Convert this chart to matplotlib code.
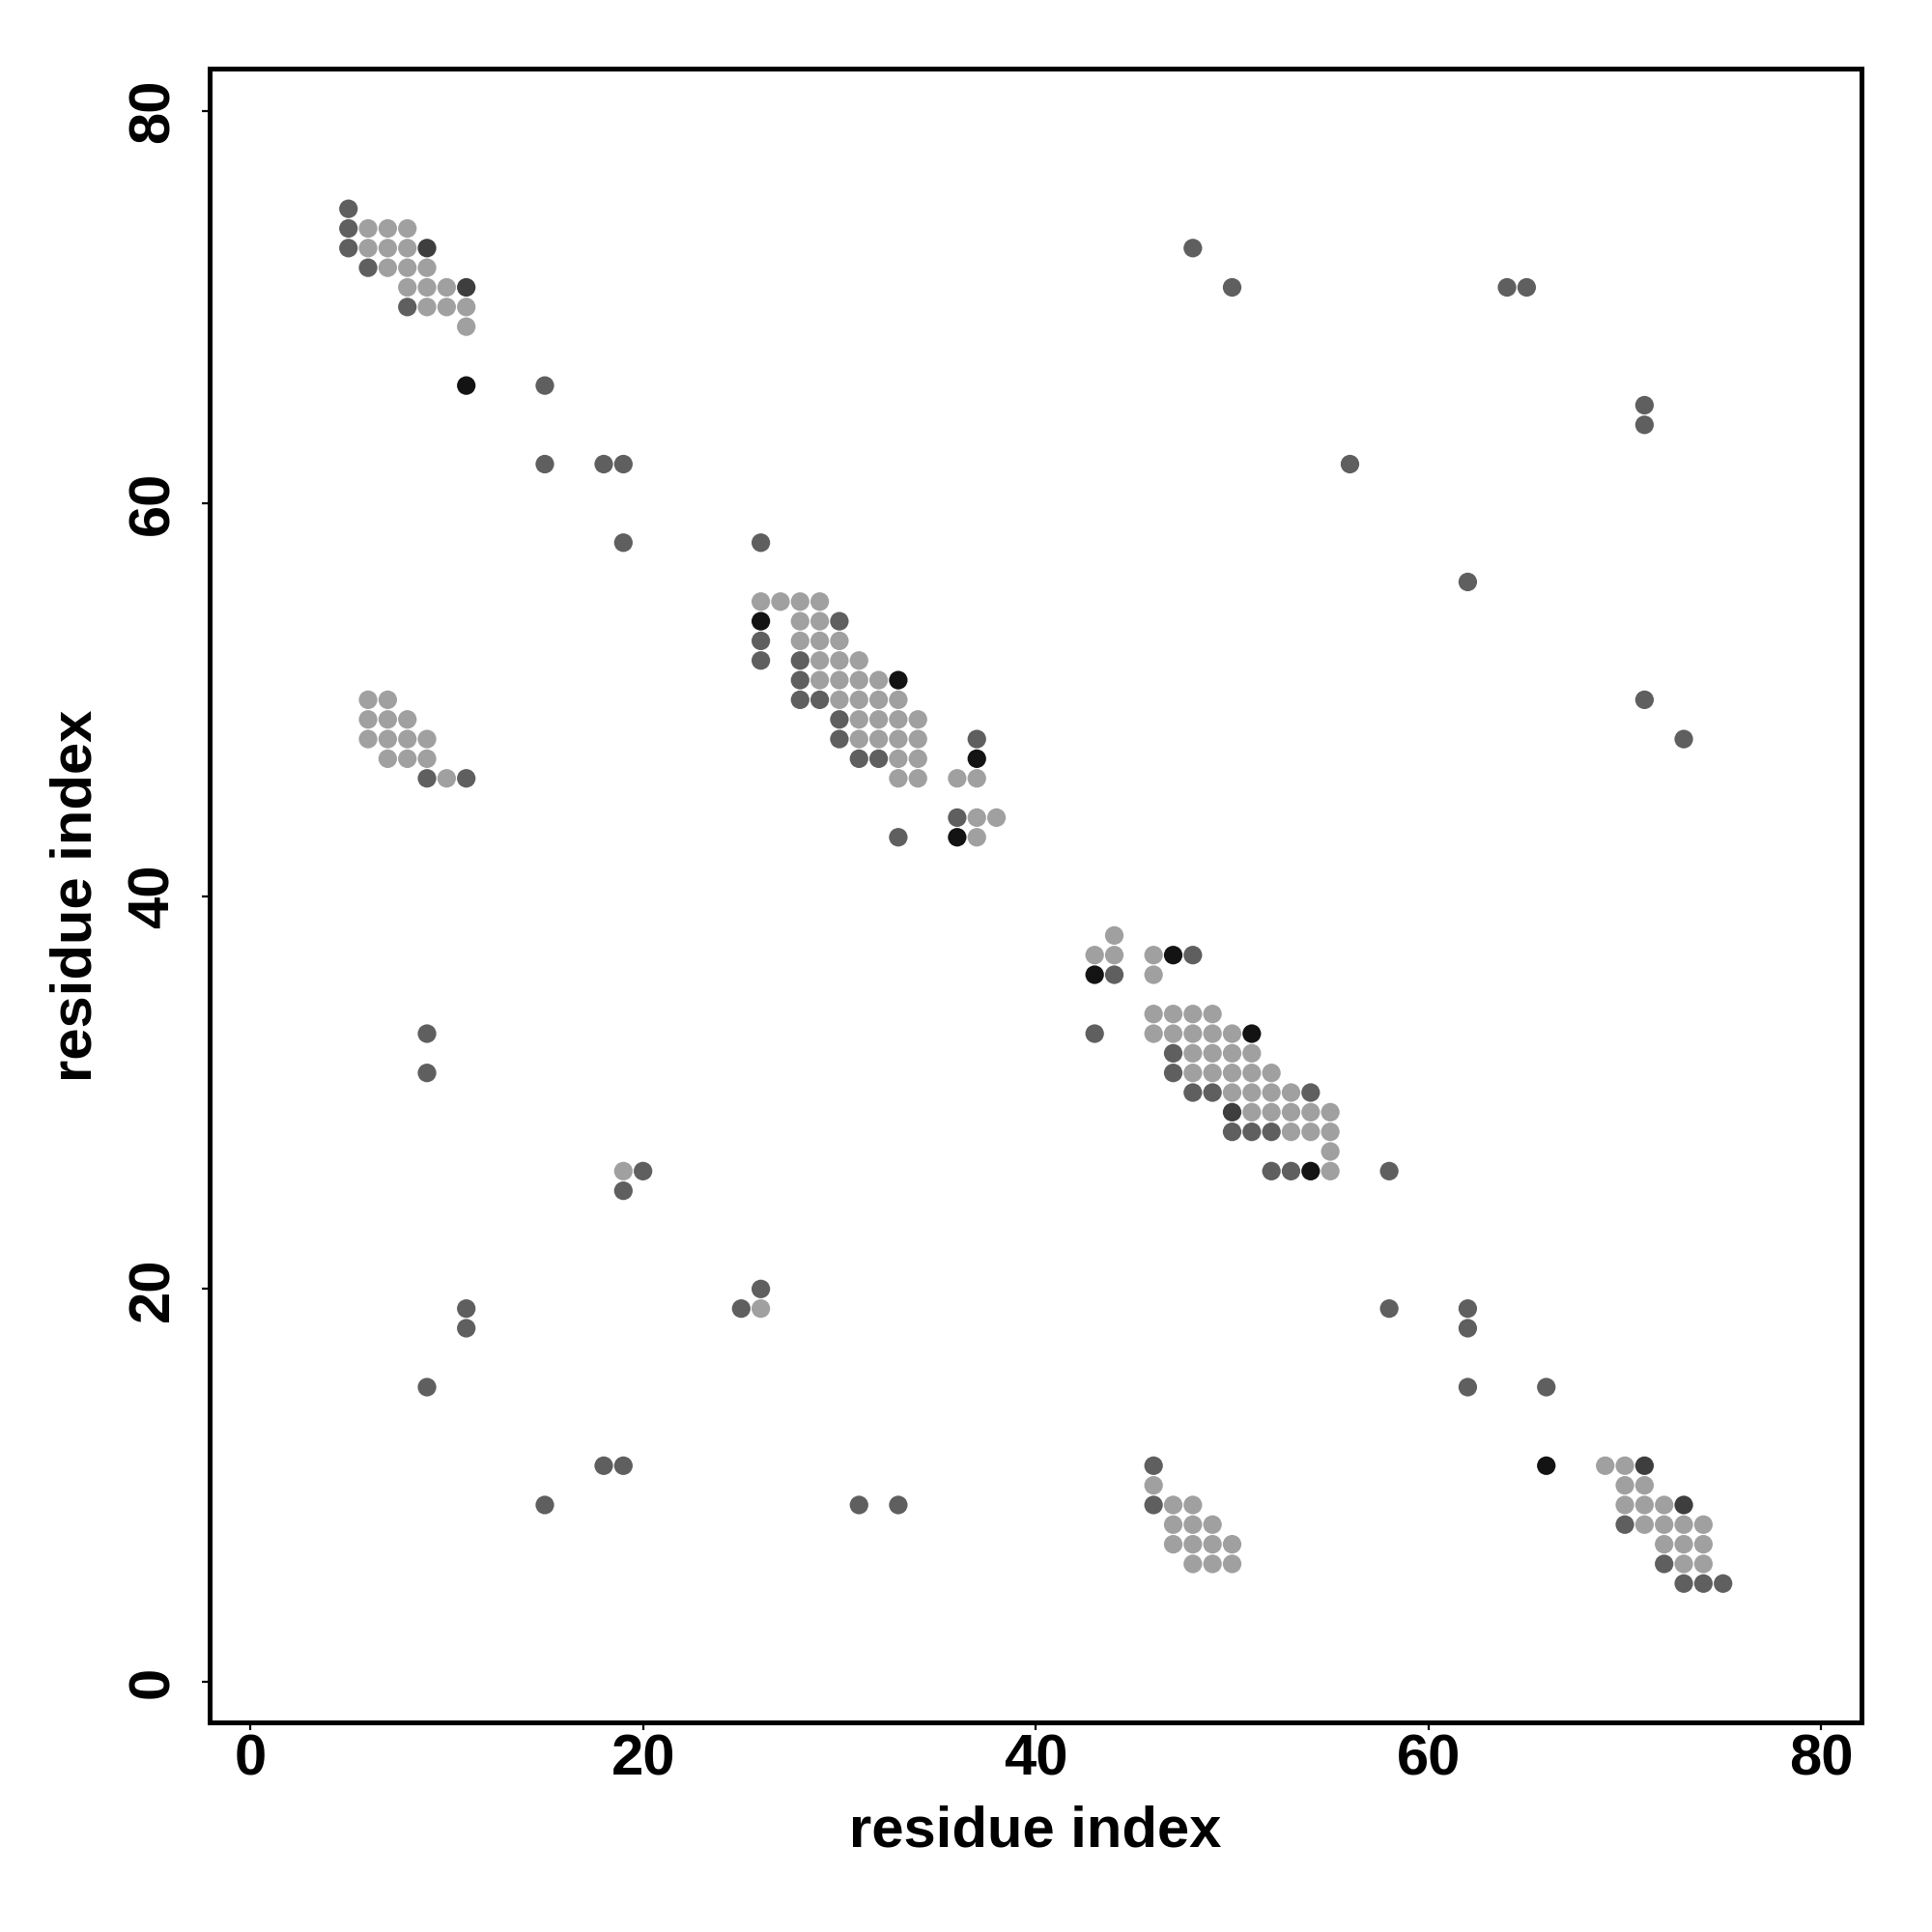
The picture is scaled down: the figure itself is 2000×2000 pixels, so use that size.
import matplotlib
matplotlib.use('Agg')
import matplotlib.pyplot as plt

# contact points: residue i (x), residue j (y), shade level (0 light .. 3 black)
res_x = [5, 5, 6, 7, 8, 5, 6, 7, 8, 9, 6, 7, 8, 9, 8, 9, 10, 11, 8, 9, 10, 11, 11, 11,
         15, 15, 18, 19, 19, 26,
         6, 7, 6, 7, 8, 6, 7, 8, 9, 7, 8, 9, 9, 10, 11,
         26, 27, 28, 29, 26, 28, 29, 30, 26, 28, 29, 30, 26, 28, 29, 30, 31,
         28, 29, 30, 31, 32, 33, 28, 29, 30, 31, 32, 33, 30, 31, 32, 33, 34,
         30, 31, 32, 33, 34, 37, 31, 32, 33, 34, 37, 33, 34, 36, 37, 36, 37, 38, 33, 36, 37,
         44, 43, 44, 46, 47, 48, 43, 44, 46, 46, 47, 48, 49, 43, 46, 47, 48, 49, 50, 51,
         47, 48, 49, 50, 51, 47, 48, 49, 50, 51, 52, 48, 49, 50, 51, 52, 53, 54,
         50, 51, 52, 53, 54, 55, 50, 51, 52, 53, 54, 55, 55, 52, 53, 54, 55, 58,
         69, 70, 71, 70, 71, 70, 71, 72, 73, 70, 71, 72, 73, 74, 72, 73, 74, 72, 73, 74,
         73, 74, 75, 66, 66,
         46, 46, 46, 47, 48, 47, 48, 49, 47, 48, 49, 50, 48, 49, 50,
         48, 50, 64, 65, 71, 71, 56, 62, 71, 73,
         9, 9, 19, 20, 19, 11, 11, 9, 25, 26, 26, 18, 19, 15, 31, 33, 58, 62, 62, 62]
res_y = [75, 74, 74, 74, 74, 73, 73, 73, 73, 73, 72, 72, 72, 72, 71, 71, 71, 71, 70, 70, 70, 70, 69, 66,
         66, 62, 62, 62, 58, 58,
         50, 50, 49, 49, 49, 48, 48, 48, 48, 47, 47, 47, 46, 46, 46,
         55, 55, 55, 55, 54, 54, 54, 54, 53, 53, 53, 53, 52, 52, 52, 52, 52,
         51, 51, 51, 51, 51, 51, 50, 50, 50, 50, 50, 50, 49, 49, 49, 49, 49,
         48, 48, 48, 48, 48, 48, 47, 47, 47, 47, 47, 46, 46, 46, 46, 44, 44, 44, 43, 43, 43,
         38, 37, 37, 37, 37, 37, 36, 36, 36, 34, 34, 34, 34, 33, 33, 33, 33, 33, 33, 33,
         32, 32, 32, 32, 32, 31, 31, 31, 31, 31, 31, 30, 30, 30, 30, 30, 30, 30,
         29, 29, 29, 29, 29, 29, 28, 28, 28, 28, 28, 28, 27, 26, 26, 26, 26, 26,
         11, 11, 11, 10, 10, 9, 9, 9, 9, 8, 8, 8, 8, 8, 7, 7, 7, 6, 6, 6,
         5, 5, 5, 11, 15,
         11, 10, 9, 9, 9, 8, 8, 8, 7, 7, 7, 7, 6, 6, 6,
         73, 71, 71, 71, 65, 64, 62, 56, 50, 48,
         33, 31, 26, 26, 25, 19, 18, 15, 19, 20, 19, 11, 11, 9, 9, 9, 19, 19, 18, 15]
shade = [1, 1, 0, 0, 0, 1, 0, 0, 0, 2, 1, 0, 0, 0, 0, 0, 0, 2, 1, 0, 0, 0, 0, 3,
         1, 1, 1, 1, 1, 1,
         0, 0, 0, 0, 0, 0, 0, 0, 0, 0, 0, 0, 1, 0, 1,
         0, 0, 0, 0, 3, 0, 0, 1, 1, 0, 0, 0, 1, 1, 0, 0, 0,
         1, 0, 0, 0, 0, 3, 1, 1, 0, 0, 0, 0, 1, 0, 0, 0, 0,
         1, 0, 0, 0, 0, 1, 1, 1, 0, 0, 3, 0, 0, 0, 0, 1, 0, 0, 1, 3, 0,
         0, 0, 0, 0, 3, 1, 3, 1, 0, 0, 0, 0, 0, 1, 0, 0, 0, 0, 0, 3,
         1, 0, 0, 0, 0, 1, 0, 0, 0, 0, 0, 1, 1, 0, 0, 0, 0, 1,
         2, 0, 0, 0, 0, 0, 1, 1, 1, 0, 0, 0, 0, 1, 1, 3, 0, 1,
         0, 0, 2, 0, 0, 0, 0, 0, 2, 1, 0, 0, 0, 0, 0, 0, 0, 1, 0, 0,
         1, 1, 1, 3, 1,
         1, 0, 1, 0, 0, 0, 0, 0, 0, 0, 0, 0, 0, 0, 0,
         1, 1, 1, 1, 1, 1, 1, 1, 1, 1,
         1, 1, 0, 1, 1, 1, 1, 1, 1, 1, 0, 1, 1, 1, 1, 1, 1, 1, 1, 1]
palette = ['#a0a0a0', '#5f5f5f', '#3e3e3e', '#131313']

ticks = [0, 20, 40, 60, 80]

plt.rcParams['font.family'] = ['Liberation Sans', 'DejaVu Sans']
plt.rcParams['font.weight'] = 'bold'

fig = plt.figure(figsize=(10, 10), dpi=200)
ax = fig.add_axes([0.1085, 0.1085, 0.855, 0.856])

colors = [palette[s] for s in shade]
ax.scatter(res_x, res_y, s=48, c=colors, linewidths=0)

ax.set_xlim(-2.07, 82.05)
ax.set_ylim(-2.07, 82.14)
ax.set_xticks(ticks)
ax.set_yticks(ticks)
ax.set_xticklabels([str(t) for t in ticks], fontsize=21.5, fontweight='bold')
ax.set_yticklabels([str(t) for t in ticks], fontsize=21.5, fontweight='bold',
                   rotation=90, va='center')
ax.tick_params(direction='out', length=3, width=0.8)
ax.tick_params(axis='x', pad=1)
ax.tick_params(axis='y', pad=8)
ax.set_xlabel('residue index', fontsize=21.5, fontweight='bold', labelpad=7)
ax.set_ylabel('residue index', fontsize=21.5, fontweight='bold', labelpad=9)
for sp in ax.spines.values():
    sp.set_linewidth(1.8)

fig.savefig('out.png', dpi=200, facecolor='white')
